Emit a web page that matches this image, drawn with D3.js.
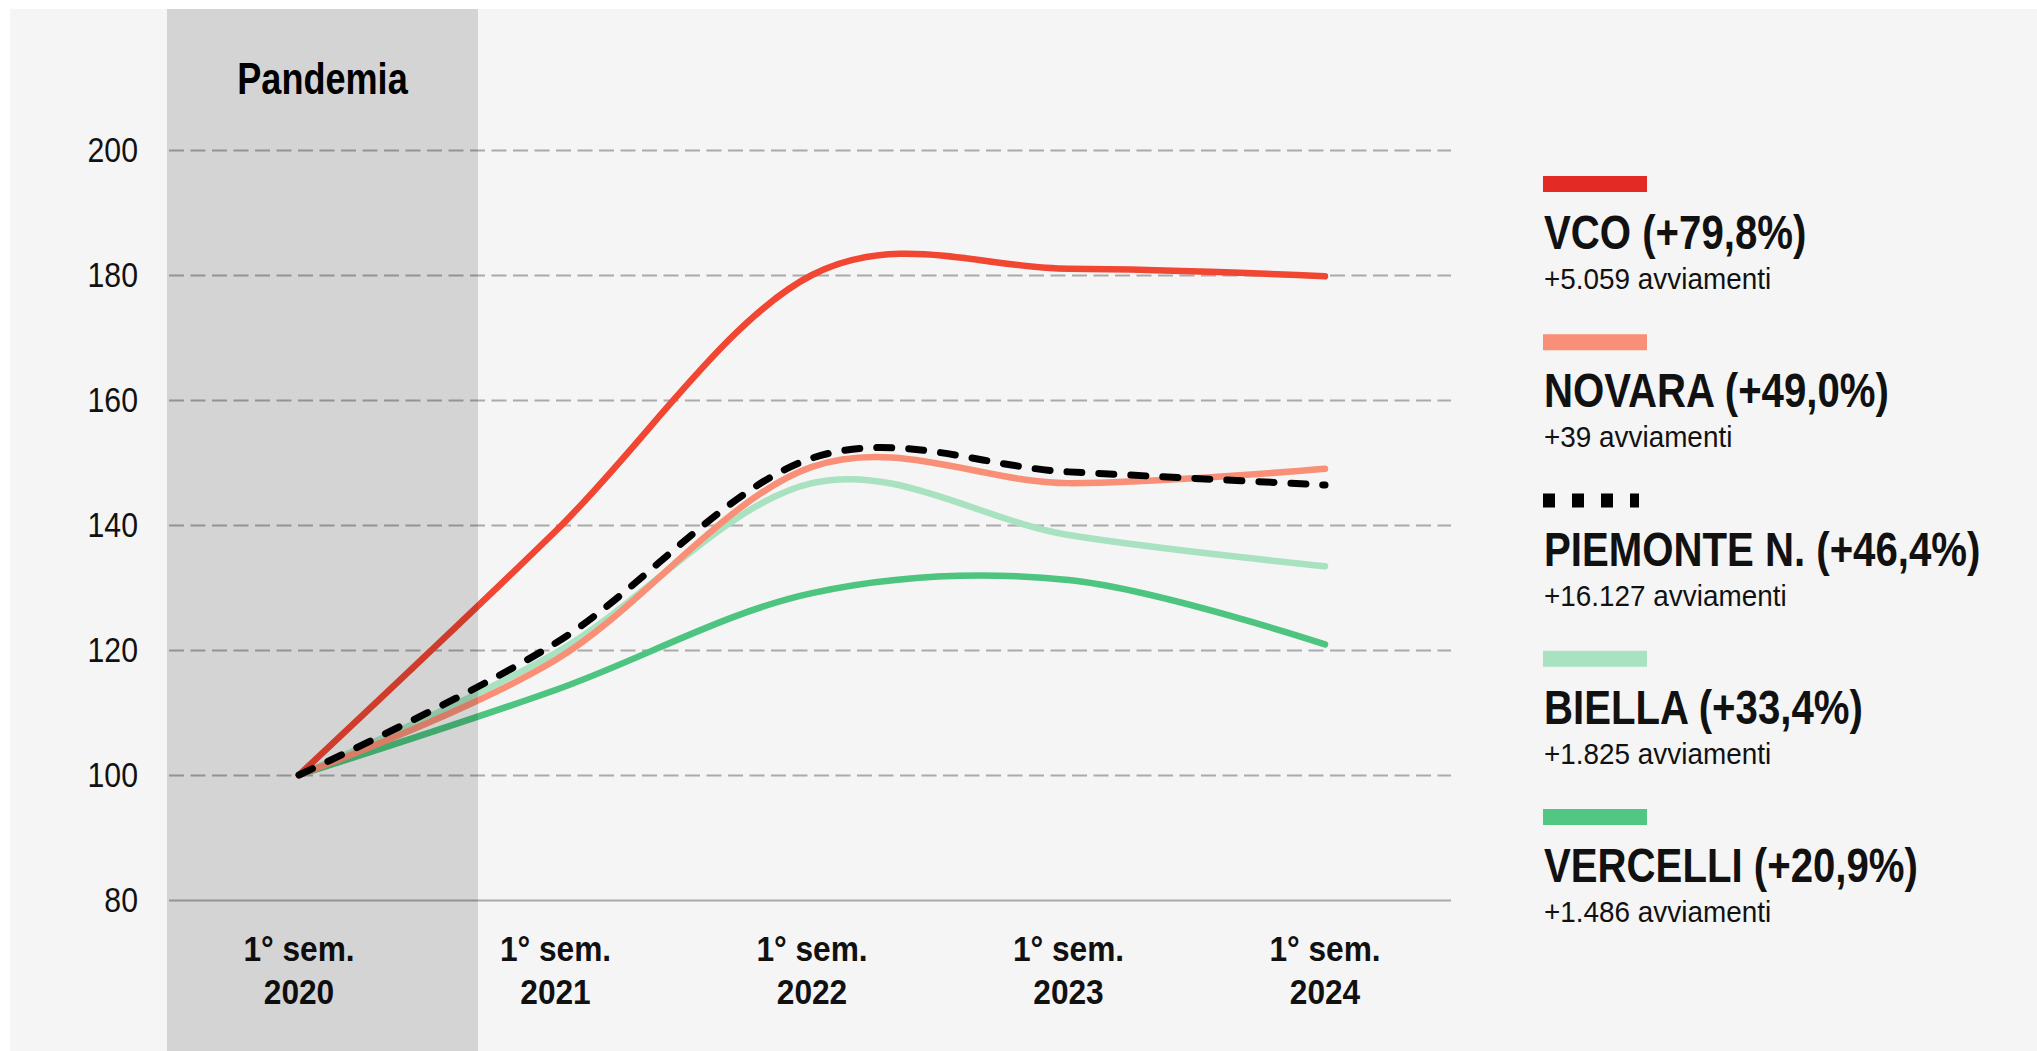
<!DOCTYPE html>
<html>
<head>
<meta charset="utf-8">
<script src="https://cdn.jsdelivr.net/npm/d3@7"></script>
<style>
  body { margin: 0; background: #fff; }
  svg text { font-family: "Liberation Sans", Arial, sans-serif; }
</style>
</head>
<body>
<svg id="chart" width="2037" height="1051"></svg>
<script>
// Avviamenti al lavoro, indice 1° sem. 2020 = 100
const semesters = ['2020', '2021', '2022', '2023', '2024'];
const vco      = [100, 139.0, 180.0, 181.0, 179.8];
const novara   = [100, 118.4, 149.3, 146.7, 149.0];
const piemonte = [100, 121.1, 150.7, 148.5, 146.4];
const biella   = [100, 119.5, 146.7, 138.4, 133.4];
const vercelli = [100, 113.6, 129.1, 131.2, 120.9];
const yTicks = [80, 100, 120, 140, 160, 180, 200];
const legendNames = ['VCO', 'NOVARA', 'PIEMONTE N.', 'BIELLA', 'VERCELLI'];
const legendPct = ['+79,8%', '+49,0%', '+46,4%', '+33,4%', '+20,9%'];
const legendAvv = ['+5.059', '+39', '+16.127', '+1.825', '+1.486'];

const W = 2037, H = 1051;
const svg = d3.select('#chart');

// no condensed font installed: squeeze Liberation Sans horizontally
function sText(g, x, y, sx, str) {
  return g.append('text')
    .attr('transform', `translate(${x},${y}) scale(${sx},1)`)
    .attr('fill', '#111')
    .text(str);
}

const x = d3.scalePoint().domain(semesters).range([299, 1325]);
const y = d3.scaleLinear().domain([80, 200]).range([900, 150]);
const gridLeft = 169, gridRight = 1451;

// panel
svg.append('rect').attr('x', 10).attr('y', 9).attr('width', W - 10).attr('height', H - 9).attr('fill', '#f5f5f5');

// grid + y labels
const yAxis = svg.append('g')
  .attr('transform', `translate(${gridLeft},0)`)
  .call(d3.axisLeft(y).tickValues(yTicks).tickSize(-(gridRight - gridLeft)));
yAxis.select('.domain').remove();
yAxis.selectAll('.tick line')
  .attr('stroke', '#aaa').attr('stroke-width', 2)
  .attr('stroke-dasharray', d => d === 80 ? null : '15,6.5');
yAxis.selectAll('.tick text')
  .attr('fill', '#111').attr('font-size', 36)
  .attr('x', -31 / 0.84)
  .attr('transform', 'scale(0.84,1)')
  .style('font-family', '"Liberation Sans", Arial, sans-serif');

// x labels (two lines)
const xl = svg.append('g').attr('font-size', 36).attr('font-weight', 'bold').attr('text-anchor', 'middle');
semesters.forEach(s => {
  sText(xl, x(s), 961, 0.88, '1° sem.');
  sText(xl, x(s), 1004, 0.88, s);
});

// lines
const series = [
  {name: 'VERCELLI', values: vercelli, color: '#4dc47f', dash: null},
  {name: 'BIELLA', values: biella, color: '#a8e2c1', dash: null},
  {name: 'NOVARA', values: novara, color: '#f98f76', dash: null},
  {name: 'VCO', values: vco, color: '#f04632', dash: null},
  {name: 'PIEMONTE N.', values: piemonte, color: '#000', dash: '15,17'}
];
const line = d3.line()
  .x((d, i) => x(semesters[i]))
  .y(d => y(d))
  .curve(d3.curveCardinal.tension(0));
svg.append('g').selectAll('path').data(series).enter().append('path')
  .attr('d', d => line(d.values))
  .attr('fill', 'none')
  .attr('stroke', d => d.color)
  .attr('stroke-width', d => d.dash ? 7 : 6.5)
  .attr('stroke-linecap', 'round')
  .attr('stroke-linejoin', 'round')
  .attr('stroke-dasharray', d => d.dash);

// pandemic band (overlay)
const bandLeft = 167, bandRight = 478;
svg.append('rect').attr('x', bandLeft).attr('y', 9).attr('width', bandRight - bandLeft).attr('height', H - 9)
  .attr('fill', '#000').attr('fill-opacity', 0.135);
sText(svg, (bandLeft + bandRight) / 2, 94, 0.82, 'Pandemia')
  .attr('text-anchor', 'middle').attr('font-size', 44).attr('font-weight', 'bold').attr('fill', '#000');

// legend
const legendColors = ['#e32a24', '#f98f76', '#000', '#a8e2c1', '#52c783'];
const ly = d3.scalePoint().domain(legendNames).range([184, 817]);
const lx = 1543, swW = 104, swH = 16;
const lg = svg.append('g');
legendNames.forEach((n, i) => {
  const cy = ly(n);
  if (n === 'PIEMONTE N.') {
    lg.append('line').attr('x1', lx).attr('x2', lx + 96).attr('y1', cy).attr('y2', cy)
      .attr('stroke', '#000').attr('stroke-width', 14).attr('stroke-dasharray', '12,17');
  } else {
    lg.append('rect').attr('x', lx).attr('y', cy - swH / 2).attr('width', swW).attr('height', swH)
      .attr('fill', legendColors[i]);
  }
  sText(lg, lx + 1, cy + 65, 0.82, `${n} (${legendPct[i]})`)
    .attr('font-size', 49).attr('font-weight', 'bold');
  sText(lg, lx + 1, cy + 105, 0.93, `${legendAvv[i]} avviamenti`)
    .attr('font-size', 30);
});
</script>
</body>
</html>
